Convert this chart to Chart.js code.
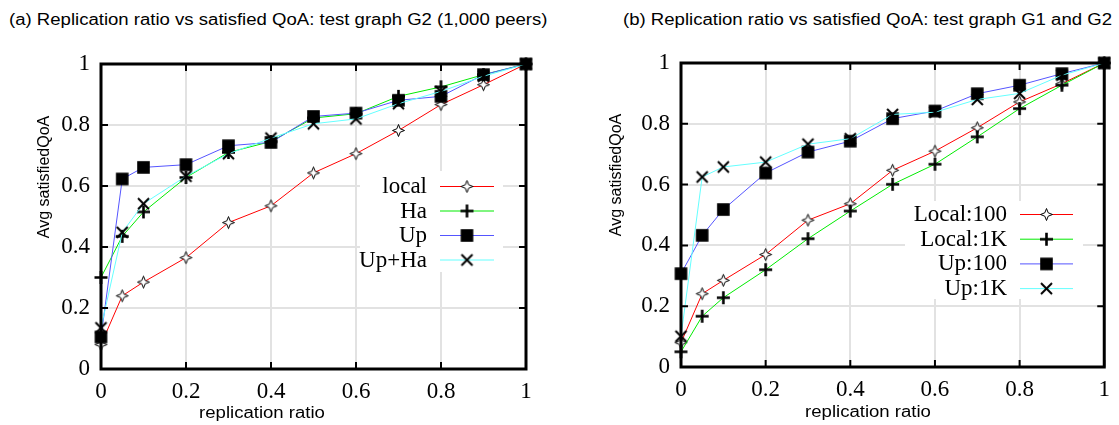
<!DOCTYPE html>
<html><head><meta charset="utf-8">
<script src="https://cdn.jsdelivr.net/npm/chart.js@4.4.0/dist/chart.umd.min.js"></script>
<style>
html,body{margin:0;padding:0;background:#fff;width:1119px;height:425px;overflow:hidden}
.t{position:absolute;font-family:'Liberation Sans',Arial,sans-serif;font-size:16px;color:#000;white-space:nowrap;line-height:16px;transform:scaleX(1.16);transform-origin:0 50%}
#c1{position:absolute;left:0;top:0}
#c2{position:absolute;left:560px;top:0}
</style></head><body>
<div class="t" style="left:9px;top:12px">(a) Replication ratio vs satisfied QoA: test graph G2 (1,000 peers)</div>
<div class="t" style="left:623px;top:12px">(b) Replication ratio vs satisfied QoA: test graph G1 and G2</div>
<canvas id="c1" width="560" height="425" style="width:560px;height:425px"></canvas>
<canvas id="c2" width="559" height="425" style="width:559px;height:425px"></canvas>
<script>
// ---- data ----
const ratios = [0, 0.05, 0.1, 0.2, 0.3, 0.4, 0.5, 0.6, 0.7, 0.8, 0.9, 1];
const tickValues = [0, 0.2, 0.4, 0.6, 0.8, 1];

// (a) test graph G2
const g2Labels = ['local', 'Ha', 'Up', 'Up+Ha'];
const g2Local = [0.08, 0.24, 0.285, 0.365, 0.48, 0.535, 0.643, 0.706, 0.782, 0.867, 0.932, 1];
const g2Ha    = [0.30, 0.435, 0.515, 0.628, 0.71, 0.746, 0.823, 0.837, 0.894, 0.925, 0.965, 1];
const g2Up    = [0.105, 0.623, 0.661, 0.67, 0.732, 0.743, 0.828, 0.839, 0.881, 0.894, 0.965, 1];
const g2UpHa  = [0.135, 0.448, 0.542, 0.632, 0.706, 0.757, 0.804, 0.82, 0.87, 0.91, 0.96, 1];

// (b) test graphs G1 and G2
const gbLabels = ['Local:100', 'Local:1K', 'Up:100', 'Up:1K'];
const local100 = [0.08, 0.241, 0.285, 0.37, 0.483, 0.537, 0.647, 0.71, 0.787, 0.872, 0.932, 1];
const local1K  = [0.05, 0.167, 0.228, 0.32, 0.422, 0.513, 0.601, 0.667, 0.757, 0.85, 0.927, 1];
const up100    = [0.307, 0.433, 0.518, 0.638, 0.707, 0.743, 0.817, 0.842, 0.899, 0.927, 0.965, 1];
const up1K     = [0.101, 0.625, 0.658, 0.674, 0.733, 0.751, 0.831, 0.838, 0.88, 0.9, 0.96, 1];

// ---- markers ----
function mk(type) {
  const c = document.createElement('canvas');
  c.width = 17; c.height = 17;
  const x = c.getContext('2d');
  x.translate(8.5, 8.5);
  x.strokeStyle = '#000'; x.fillStyle = '#000';
  if (type === 'star') {
    const r = 6, k = 1.7;
    x.beginPath();
    x.moveTo(0, -r); x.lineTo(k, -k); x.lineTo(r, 0); x.lineTo(k, k);
    x.lineTo(0, r); x.lineTo(-k, k); x.lineTo(-r, 0); x.lineTo(-k, -k);
    x.closePath();
    x.fillStyle = '#fff'; x.fill();
    x.lineWidth = 1; x.stroke();
  } else if (type === 'plus') {
    x.lineWidth = 2.6;
    x.beginPath(); x.moveTo(-6.5, 0); x.lineTo(6.5, 0); x.moveTo(0, -6.5); x.lineTo(0, 6.5); x.stroke();
  } else if (type === 'square') {
    x.fillRect(-6.3, -6.3, 12.6, 12.6);
  } else if (type === 'x') {
    x.lineWidth = 2;
    x.beginPath(); x.moveTo(-5.5, -5.5); x.lineTo(5.5, 5.5); x.moveTo(5.5, -5.5); x.lineTo(-5.5, 5.5); x.stroke();
  }
  return c;
}
const M = { star: mk('star'), plus: mk('plus'), square: mk('square'), x: mk('x') };
const COLORS = ['rgb(255,0,0)', 'rgb(0,235,0)', 'rgb(85,85,255)', 'rgb(100,255,255)'];
const MARKS = ['star', 'plus', 'square', 'x'];

const fmt = v => String(Math.round(v * 10) / 10);

const framePlugin = {
  id: 'frame',
  beforeDatasetsDraw(chart, args, o) {
    const ctx = chart.ctx;
    ctx.save();
    ctx.fillStyle = '#fff';
    ctx.fillRect(o.box[0], o.box[1], o.box[2] - o.box[0], o.box[3] - o.box[1]);
    ctx.restore();
  },
  afterDraw(chart, args, o) {
    const ctx = chart.ctx, a = chart.chartArea;
    const xs = chart.scales.x, ys = chart.scales.y;
    ctx.save();
    // inward ticks
    ctx.strokeStyle = '#000'; ctx.lineWidth = 2;
    ctx.beginPath();
    tickValues.forEach(v => {
      const px = xs.getPixelForValue(v);
      ctx.moveTo(px, a.bottom); ctx.lineTo(px, a.bottom - 7);
      ctx.moveTo(px, a.top); ctx.lineTo(px, a.top + 7);
      const py = ys.getPixelForValue(v);
      ctx.moveTo(a.left, py); ctx.lineTo(a.left + 7, py);
      ctx.moveTo(a.right, py); ctx.lineTo(a.right - 7, py);
    });
    ctx.stroke();
    // border
    ctx.lineWidth = 3;
    ctx.strokeRect(a.left, a.top, a.right - a.left, a.bottom - a.top);
    // legend
    ctx.font = '23px "Liberation Serif", "Times New Roman", serif';
    ctx.textAlign = 'right'; ctx.textBaseline = 'middle';
    chart.data.datasets.forEach((ds, i) => {
      const y = o.legY + i * o.legDy;
      ctx.fillStyle = '#000';
      ctx.fillText(ds.label, o.textRight, y + 1);
      ctx.strokeStyle = ds.borderColor; ctx.lineWidth = 1;
      ctx.beginPath(); ctx.moveTo(o.lineX0, y + 0.5); ctx.lineTo(o.lineX1, y + 0.5); ctx.stroke();
      const m = ds.pointStyle;
      ctx.drawImage(m, (o.lineX0 + o.lineX1) / 2 - m.width / 2, y + 0.5 - m.height / 2);
    });
    // axis titles
    ctx.fillStyle = '#000';
    ctx.font = '16px "Liberation Sans", Arial, sans-serif';
    ctx.textAlign = 'center'; ctx.textBaseline = 'middle';
    ctx.save();
    ctx.translate(o.xTitle[0], o.xTitle[1]);
    ctx.scale(1.16, 1);
    ctx.fillText('replication ratio', 0, 0);
    ctx.restore();
    ctx.translate(o.yTitle[0], o.yTitle[1]);
    ctx.rotate(-Math.PI / 2);
    ctx.fillText('Avg satisfiedQoA', 0, 0);
    ctx.restore();
  }
};

function makeChart(id, labels, series, geo) {
  const datasets = series.map((d, i) => ({
    label: labels[i],
    data: ratios.map((r, j) => ({ x: r, y: d[j] })),
    borderColor: COLORS[i],
    backgroundColor: COLORS[i],
    borderWidth: 1,
    pointStyle: M[MARKS[i]],
    pointRadius: 6,
    pointHoverRadius: 6,
    tension: 0,
    clip: false,
    order: series.length - i
  }));
  return new Chart(document.getElementById(id), {
    type: 'line',
    data: { datasets },
    plugins: [framePlugin],
    options: {
      responsive: false,
      animation: false,
      events: [],
      devicePixelRatio: 1,
      layout: { padding: { top: geo.top, right: geo.right, left: 0, bottom: 0 } },
      plugins: {
        legend: { display: false },
        tooltip: { enabled: false },
        frame: geo.frame
      },
      scales: {
        x: {
          type: 'linear', min: 0, max: 1,
          afterBuildTicks: s => { s.ticks = tickValues.map(v => ({ value: v })); },
          afterFit: s => { s.height = geo.xh; },
          ticks: { callback: fmt, padding: 9, color: '#000', maxRotation: 0, autoSkip: false,
                   font: { family: '"Liberation Serif", "Times New Roman", serif', size: 23 } },
          grid: { color: '#e2e2e2', lineWidth: 2, drawTicks: false },
          border: { display: false }
        },
        y: {
          type: 'linear', min: 0, max: 1,
          afterBuildTicks: s => { s.ticks = tickValues.map(v => ({ value: v })); },
          afterFit: s => { s.width = geo.yw; },
          ticks: { callback: fmt, padding: 11, color: '#000', autoSkip: false,
                   font: { family: '"Liberation Serif", "Times New Roman", serif', size: 23 } },
          grid: { color: '#e2e2e2', lineWidth: 2, drawTicks: false },
          border: { display: false }
        }
      }
    }
  });
}

makeChart('c1', g2Labels, [g2Local, g2Ha, g2Up, g2UpHa], {
  top: 64, right: 34, yw: 101, xh: 56,
  frame: { box: [360, 171, 503, 272], legY: 186, legDy: 24.5, textRight: 427, lineX0: 440, lineX1: 494,
           xTitle: [262, 414], yTitle: [45, 177] }
});
makeChart('c2', gbLabels, [local100, local1K, up100, up1K], {
  top: 63, right: 14, yw: 121, xh: 58,
  frame: { box: [345, 201, 523, 299], legY: 214, legDy: 24.7, textRight: 447, lineX0: 460, lineX1: 513,
           xTitle: [308, 413], yTitle: [57, 175] }
});
</script>
</body></html>
